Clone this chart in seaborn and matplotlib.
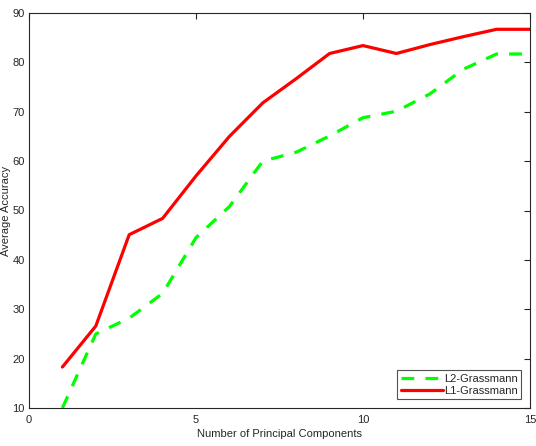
import pandas as pd
import seaborn as sns
import matplotlib.pyplot as plt

components = list(range(1, 16))
l2_grassmann = [10, 25, 28.2, 33.2, 44.5, 50.8, 60, 61.8, 65.1, 68.8, 70.1, 73.6, 78.6, 81.7, 81.7]
l1_grassmann = [18.3, 26.6, 45.1, 48.4, 57, 65, 71.8, 76.7, 81.8, 83.4, 81.8, 83.6, 85.2, 86.7, 86.7]

df = pd.DataFrame({
    'components': components * 2,
    'accuracy': l2_grassmann + l1_grassmann,
    'method': ['L2-Grassmann'] * 15 + ['L1-Grassmann'] * 15,
})

sns.set_style('white')
plt.rcParams['font.family'] = ['Liberation Sans', 'DejaVu Sans']

fig = plt.figure(figsize=(5.36, 4.46), dpi=100)
ax = fig.add_axes([29 / 536, 1 - 408 / 446, 501 / 536, 395 / 446])

sns.lineplot(data=df, x='components', y='accuracy', hue='method', style='method',
             palette={'L2-Grassmann': '#00ff00', 'L1-Grassmann': '#ff0000'},
             dashes={'L2-Grassmann': (4, 3.5), 'L1-Grassmann': ''},
             linewidth=2.3, ax=ax)

ax.set_xlim(0, 15)
ax.set_ylim(10, 90)
ax.set_xticks([0, 5, 10, 15])
ax.set_yticks(range(10, 91, 10))
ax.tick_params(direction='in', length=4, width=0.8, top=True, right=True,
               labelsize=8, colors='#262626')
ax.tick_params(axis='x', pad=5)
ax.tick_params(axis='y', pad=3)
for s in ax.spines.values():
    s.set_color('#262626')
    s.set_linewidth(0.8)

ax.set_xlabel('Number of Principal Components', fontsize=8, color='#262626', labelpad=3)
ax.set_ylabel('Average Accuracy', fontsize=8, color='#262626', labelpad=1)

leg = ax.legend(loc='lower right', fontsize=8, frameon=True, fancybox=False,
                handlelength=3.8, handletextpad=0.1, borderpad=0.3,
                labelspacing=0.2, borderaxespad=0.8)
leg.get_frame().set_edgecolor('#262626')
leg.get_frame().set_linewidth(0.8)

fig.savefig('out.png', dpi=100)
